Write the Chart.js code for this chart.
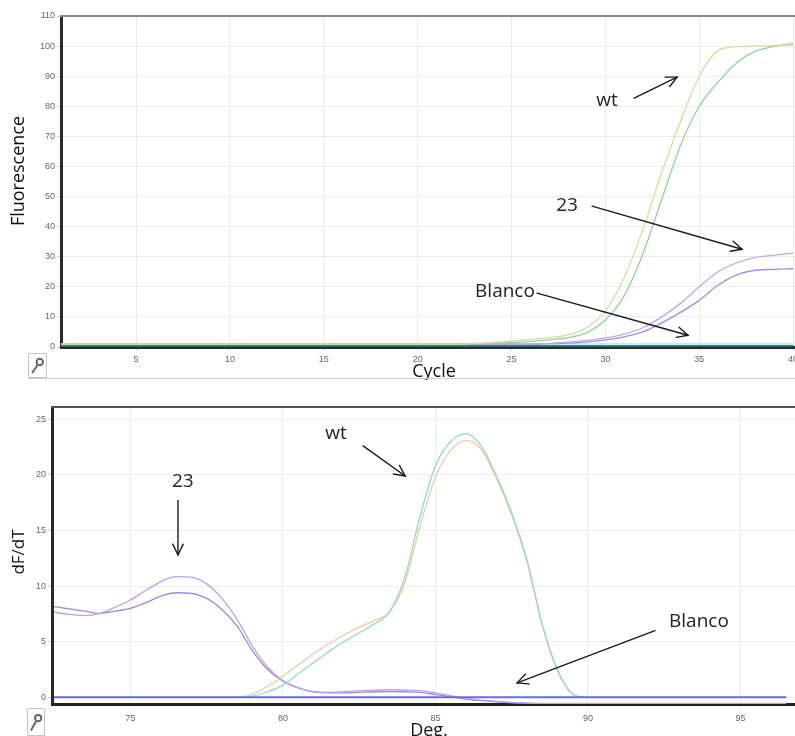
<!DOCTYPE html>
<html><head><meta charset="utf-8">
<script src="https://cdn.jsdelivr.net/npm/chart.js@4/dist/chart.umd.min.js"></script>
<style>
html,body{margin:0;padding:0;background:#fff;}
#wrap{position:relative;width:795px;height:736px;overflow:hidden;background:#fff;}
#c1{position:absolute;left:0;top:0;}
#c2{position:absolute;left:0;top:390px;}
</style></head><body>
<div id="wrap">
<canvas id="c1" width="795" height="380"></canvas>
<canvas id="c2" width="795" height="346"></canvas>
</div>
<script>
// ---------- Amplification (top) ----------
const ampCycles = [1,2,3,4,5,6,7,8,9,10,11,12,13,14,15,16,17,18,19,20,21,22,23,24,25,26,27,28,29,30,31,32,33,34,35,36,37,38,39,40];
const ampWtA = [1.0,1.0,1.0,1.0,1.0,1.0,1.0,1.0,1.0,1.0,1.0,1.0,1.0,1.0,1.0,1.0,1.0,1.0,1.0,1.0,1.0,1.0,1.2,1.5,2.0,2.5,3.1,4.0,6.4,12,23,39,58,75,90,98.5,99.8,100,100.2,100.4];
const ampWtB = [1.0,1.0,1.0,1.0,1.0,1.0,1.0,1.0,1.0,1.0,1.0,1.0,1.0,1.0,1.0,1.0,1.0,1.0,1.0,1.0,1.0,1.0,1.1,1.3,1.5,1.9,2.4,3.1,4.8,9,17,31,49,67,80,88,94.5,98.3,99.9,100.8];
const amp23A = [1.0,1.0,1.0,1.0,1.0,1.0,1.0,1.0,1.0,1.0,1.0,1.0,1.0,1.0,1.0,1.0,1.0,1.0,1.0,1.0,1.0,1.0,1.0,1.0,1.0,1.0,1.2,1.6,2.2,3.0,4.3,6.4,10,14.5,20,25,28,29.8,30.5,31.2];
const amp23B = [0.9,0.9,0.9,0.9,0.9,0.9,0.9,0.9,0.9,0.9,0.9,0.9,0.9,0.9,0.9,0.9,0.9,0.9,0.9,0.9,0.9,0.9,0.9,0.9,0.9,0.9,1.1,1.3,1.7,2.4,3.4,5,8,11.5,15.5,20.5,24,25.5,25.8,26];
const ampBlancoA = [0.4,0.4,0.4,0.4,0.4,0.4,0.4,0.4,0.4,0.4,0.4,0.4,0.4,0.4,0.4,0.4,0.4,0.4,0.4,0.4,0.4,0.4,0.4,0.4,0.4,0.4,0.4,0.4,0.4,0.4,0.4,0.4,0.4,0.4,0.4,0.4,0.4,0.4,0.4,0.4];
const ampBlancoB = [1.0,1.0,1.0,1.0,1.0,1.0,1.0,1.0,1.0,1.0,1.0,1.0,1.0,1.0,1.0,1.0,1.0,1.0,1.0,1.0,1.0,1.0,1.0,1.0,1.0,1.0,1.0,1.0,1.0,1.0,1.0,1.0,1.0,1.0,1.0,1.0,1.0,1.0,1.0,1.0];
const ampXTicks = [5,10,15,20,25,30,35,40];
const ampYTicks = [0,10,20,30,40,50,60,70,80,90,100,110];

// ---------- Melt curve (bottom) ----------
const meltTemps = [72.5,73,73.5,74,74.5,75,75.5,76,76.5,77,77.5,78,78.5,79,79.5,80,80.5,81,81.5,82,82.5,83,83.5,84,84.5,85,85.5,86,86.5,87,87.5,88,88.5,89,89.5,90,90.5,91,91.5,92,92.5,93,93.5,94,94.5,95,95.5,96,96.5];
const meltWtA = [0,0,0,0,0,0,0,0,0,0,0,0,0,0.1,0.5,1.1,2.1,3.1,4.1,5.0,5.8,6.6,7.7,10.8,16.3,20.8,23.0,23.7,22.6,19.9,16.6,12.4,6.6,2.5,0.3,0,0,0,0,0,0,0,0,0,0,0,0,0,0];
const meltWtB = [0,0,0,0,0,0,0,0,0,0,0,0,0,0.3,1.0,1.9,2.9,3.9,4.8,5.6,6.3,6.9,7.7,10.3,15.4,19.8,22.2,23.1,22.3,19.7,16.4,12.2,6.5,2.4,0.3,0,0,0,0,0,0,0,0,0,0,0,0,0,0];
const melt23A = [7.65,7.45,7.35,7.55,8.1,8.75,9.6,10.4,10.85,10.8,10.2,8.9,7.0,4.6,2.7,1.5,0.85,0.5,0.45,0.5,0.6,0.65,0.68,0.66,0.6,0.4,0.15,-0.1,-0.25,-0.35,-0.45,-0.5,-0.55,-0.55,-0.55,-0.55,-0.55,-0.55,-0.55,-0.55,-0.55,-0.55,-0.55,-0.55,-0.55,-0.55,-0.55,-0.55,-0.55];
const melt23B = [8.15,7.95,7.75,7.55,7.75,8.0,8.5,9.1,9.4,9.35,8.9,7.9,6.4,4.2,2.5,1.45,0.85,0.5,0.4,0.4,0.45,0.5,0.52,0.5,0.45,0.25,0.05,-0.15,-0.3,-0.4,-0.5,-0.55,-0.58,-0.58,-0.58,-0.58,-0.58,-0.58,-0.58,-0.58,-0.58,-0.58,-0.58,-0.58,-0.58,-0.58,-0.58,-0.58,-0.58];
const meltBlanco = [0,0,0,0,0,0,0,0,0,0,0,0,0,0,0,0,0,0,0,0,0,0,0,0,0,0,0,0,0,0,0,0,0,0,0,0,0,0,0,0,0,0,0,0,0,0,0,0,0];
const meltXTicks = [75,80,85,90,95];
const meltYTicks = [0,5,10,15,20,25];

const pts = (xs, ys) => xs.map((x, i) => ({x: x, y: ys[i]}));

function drawArrow(ctx, x1, y1, x2, y2) {
  ctx.save();
  ctx.strokeStyle = '#1a1a1a'; ctx.lineWidth = 1.4; ctx.lineCap = 'round';
  ctx.beginPath(); ctx.moveTo(x1, y1); ctx.lineTo(x2, y2); ctx.stroke();
  const a = Math.atan2(y2 - y1, x2 - x1), L = 12, s = 0.45;
  ctx.beginPath();
  ctx.moveTo(x2 - L * Math.cos(a - s), y2 - L * Math.sin(a - s));
  ctx.lineTo(x2, y2);
  ctx.lineTo(x2 - L * Math.cos(a + s), y2 - L * Math.sin(a + s));
  ctx.stroke();
  ctx.restore();
}
function drawWrench(ctx, x, y, w, h) {
  ctx.save();
  ctx.strokeStyle = '#c4c4c4'; ctx.lineWidth = 1;
  ctx.beginPath(); ctx.moveTo(x + 0.5, y + 0.5); ctx.lineTo(x + w - 0.5, y + 0.5); ctx.lineTo(x + w - 0.5, y + h - 0.5); ctx.lineTo(x + 0.5, y + h - 0.5); ctx.closePath(); ctx.stroke();
  ctx.strokeStyle = '#666'; ctx.lineWidth = 2;
  ctx.beginPath(); ctx.arc(x + w * 0.62, y + h * 0.36, 3.2, 0, Math.PI * 2); ctx.stroke();
  ctx.beginPath(); ctx.moveTo(x + w * 0.5, y + h * 0.48); ctx.lineTo(x + w * 0.22, y + h * 0.8); ctx.stroke();
  ctx.restore();
}

const notesPlugin = {
  id: 'notes',
  afterDraw(chart, args, opts) {
    const ctx = chart.ctx, sx = chart.scales.x, sy = chart.scales.y, ca = chart.chartArea;
    ctx.save();
    // top frame line
    ctx.strokeStyle = opts.frameColor; ctx.lineWidth = 2;
    ctx.beginPath(); ctx.moveTo(ca.left - 1, ca.top); ctx.lineTo(ca.right, ca.top); ctx.stroke();
    // annotations
    ctx.fillStyle = '#222';
    ctx.font = '19px "Open Sans"';
    ctx.textAlign = 'center'; ctx.textBaseline = 'middle';
    (opts.labels || []).forEach(l => ctx.fillText(l.text, sx.getPixelForValue(l.x), sy.getPixelForValue(l.y)));
    (opts.arrows || []).forEach(a => drawArrow(ctx, sx.getPixelForValue(a.x1), sy.getPixelForValue(a.y1), sx.getPixelForValue(a.x2), sy.getPixelForValue(a.y2)));
    // axis titles
    ctx.fillStyle = '#111';
    ctx.font = opts.xTitleFont; ctx.textAlign = 'center'; ctx.textBaseline = 'alphabetic';
    ctx.fillText(opts.xTitle, opts.xTitlePos[0], opts.xTitlePos[1]);
    ctx.save();
    ctx.translate(opts.yTitlePos[0], opts.yTitlePos[1]); ctx.rotate(-Math.PI / 2);
    ctx.font = opts.yTitleFont; ctx.textBaseline = 'middle';
    ctx.fillText(opts.yTitle, 0, 0);
    ctx.restore();
    if (opts.sepY) {
      ctx.strokeStyle = '#cfcfcf'; ctx.lineWidth = 1;
      ctx.beginPath(); ctx.moveTo(28, opts.sepY + 0.5); ctx.lineTo(795, opts.sepY + 0.5); ctx.stroke();
    }
    drawWrench(ctx, opts.wrench[0], opts.wrench[1], opts.wrench[2], opts.wrench[3]);
    ctx.restore();
  }
};

function fixedX(h) { return s => { s.height = h; s.paddingLeft = 0; s.paddingRight = 0; }; }
function fixedY(w) { return s => { s.width = w; s.paddingTop = 0; s.paddingBottom = 0; }; }
const tickFont = {family: '"Liberation Sans"', size: 9};

function line(label, xs, ys, color, width) {
  return {label: label, data: pts(xs, ys), borderColor: color, backgroundColor: color, borderWidth: width || 1.3,
          pointRadius: 0, fill: false, cubicInterpolationMode: 'monotone'};
}

new Chart(document.getElementById('c1'), {
  type: 'line',
  data: { datasets: [
    line('wt A', ampCycles, ampWtA, '#d3e09a'),
    line('wt B', ampCycles, ampWtB, '#8ed59c'),
    line('23 A', ampCycles, amp23A, '#c3a6ee'),
    line('23 B', ampCycles, amp23B, '#9d8de4'),
    line('Blanco B', ampCycles, ampBlancoB, '#b6e3ec', 1.5),
    line('Blanco A', ampCycles, ampBlancoA, '#3d8a8a', 1.5)
  ]},
  options: {
    responsive: false, animation: false, devicePixelRatio: 1,
    layout: {padding: {top: 16, right: 0, left: 0, bottom: 0}},
    plugins: {
      legend: {display: false}, tooltip: {enabled: false},
      notes: {
        frameColor: '#8c8c8c',
        labels: [{text: 'wt', x: 30.09, y: 82.0}, {text: '23', x: 27.96, y: 47.1}, {text: 'Blanco', x: 24.65, y: 18.5}],
        arrows: [{x1: 31.53, y1: 82.7, x2: 33.82, y2: 89.7}, {x1: 29.29, y1: 46.8, x2: 37.28, y2: 32.5}, {x1: 26.36, y1: 17.9, x2: 34.40, y2: 3.9}],
        xTitle: 'Cycle', xTitleFont: '18px "Open Sans"', xTitlePos: [434, 377],
        yTitle: 'Fluorescence', yTitleFont: '18px "Open Sans"', yTitlePos: [19, 171],
        sepY: 378, wrench: [28, 353, 19, 25]
      }
    },
    scales: {
      x: { type: 'linear', min: 1, max: 40.1,
        afterBuildTicks: s => { s.ticks = ampXTicks.map(v => ({value: v})); },
        afterFit: fixedX(33),
        grid: {color: '#ececec', lineWidth: 1, tickLength: 4, tickColor: '#d0d0d0'},
        border: {color: '#1f3333', width: 3},
        ticks: {font: tickFont, color: '#666', padding: 3, maxRotation: 0, autoSkip: false, callback: v => String(v)}
      },
      y: { min: 0, max: 110,
        afterBuildTicks: s => { s.ticks = ampYTicks.map(v => ({value: v})); },
        afterFit: fixedY(61),
        grid: {color: '#ececec', lineWidth: 1, tickLength: 4, tickColor: '#d0d0d0'},
        border: {color: '#2a2a2a', width: 3},
        ticks: {font: tickFont, color: '#666', padding: 2, autoSkip: false, callback: v => String(v)}
      }
    }
  },
  plugins: [notesPlugin]
});

new Chart(document.getElementById('c2'), {
  type: 'line',
  data: { datasets: [
    line('Blanco', meltTemps, meltBlanco, '#6b6be6', 2),
    line('wt A', meltTemps, meltWtA, '#90dcc0'),
    line('wt B', meltTemps, meltWtB, '#e6cfa0'),
    line('23 A', meltTemps, melt23A, '#bba2ec'),
    line('23 B', meltTemps, melt23B, '#9a8ad8')
  ]},
  options: {
    responsive: false, animation: false, devicePixelRatio: 1,
    layout: {padding: {top: 17, right: 0, left: 0, bottom: 0}},
    plugins: {
      legend: {display: false}, tooltip: {enabled: false},
      notes: {
        frameColor: '#555',
        labels: [{text: '23', x: 76.72, y: 19.4}, {text: 'wt', x: 81.74, y: 23.7}, {text: 'Blanco', x: 93.64, y: 6.8}],
        arrows: [{x1: 76.56, y1: 17.7, x2: 76.56, y2: 12.8}, {x1: 82.63, y1: 22.6, x2: 84.01, y2: 19.9}, {x1: 92.20, y1: 6.0, x2: 87.68, y2: 1.3}],
        xTitle: 'Deg.', xTitleFont: '18px "Open Sans"', xTitlePos: [429, 346],
        yTitle: 'dF/dT', yTitleFont: '17px "Open Sans"', yTitlePos: [19, 162],
        sepY: null, wrench: [27, 318, 18, 28]
      }
    },
    scales: {
      x: { type: 'linear', min: 72.43, max: 96.79,
        afterBuildTicks: s => { s.ticks = meltXTicks.map(v => ({value: v})); },
        afterFit: fixedX(32),
        grid: {color: '#ececec', lineWidth: 1, tickLength: 4, tickColor: '#d0d0d0'},
        border: {color: '#222', width: 3},
        ticks: {font: tickFont, color: '#666', padding: 5, maxRotation: 0, autoSkip: false, callback: v => String(v)}
      },
      y: { min: -0.6, max: 26.1,
        afterBuildTicks: s => { s.ticks = meltYTicks.map(v => ({value: v})); },
        afterFit: fixedY(52),
        grid: {color: '#ececec', lineWidth: 1, tickLength: 4, tickColor: '#d0d0d0'},
        border: {color: '#2a2a2a', width: 3},
        ticks: {font: tickFont, color: '#666', padding: 2, autoSkip: false, callback: v => String(v)}
      }
    }
  },
  plugins: [notesPlugin]
});
</script>
</body></html>
